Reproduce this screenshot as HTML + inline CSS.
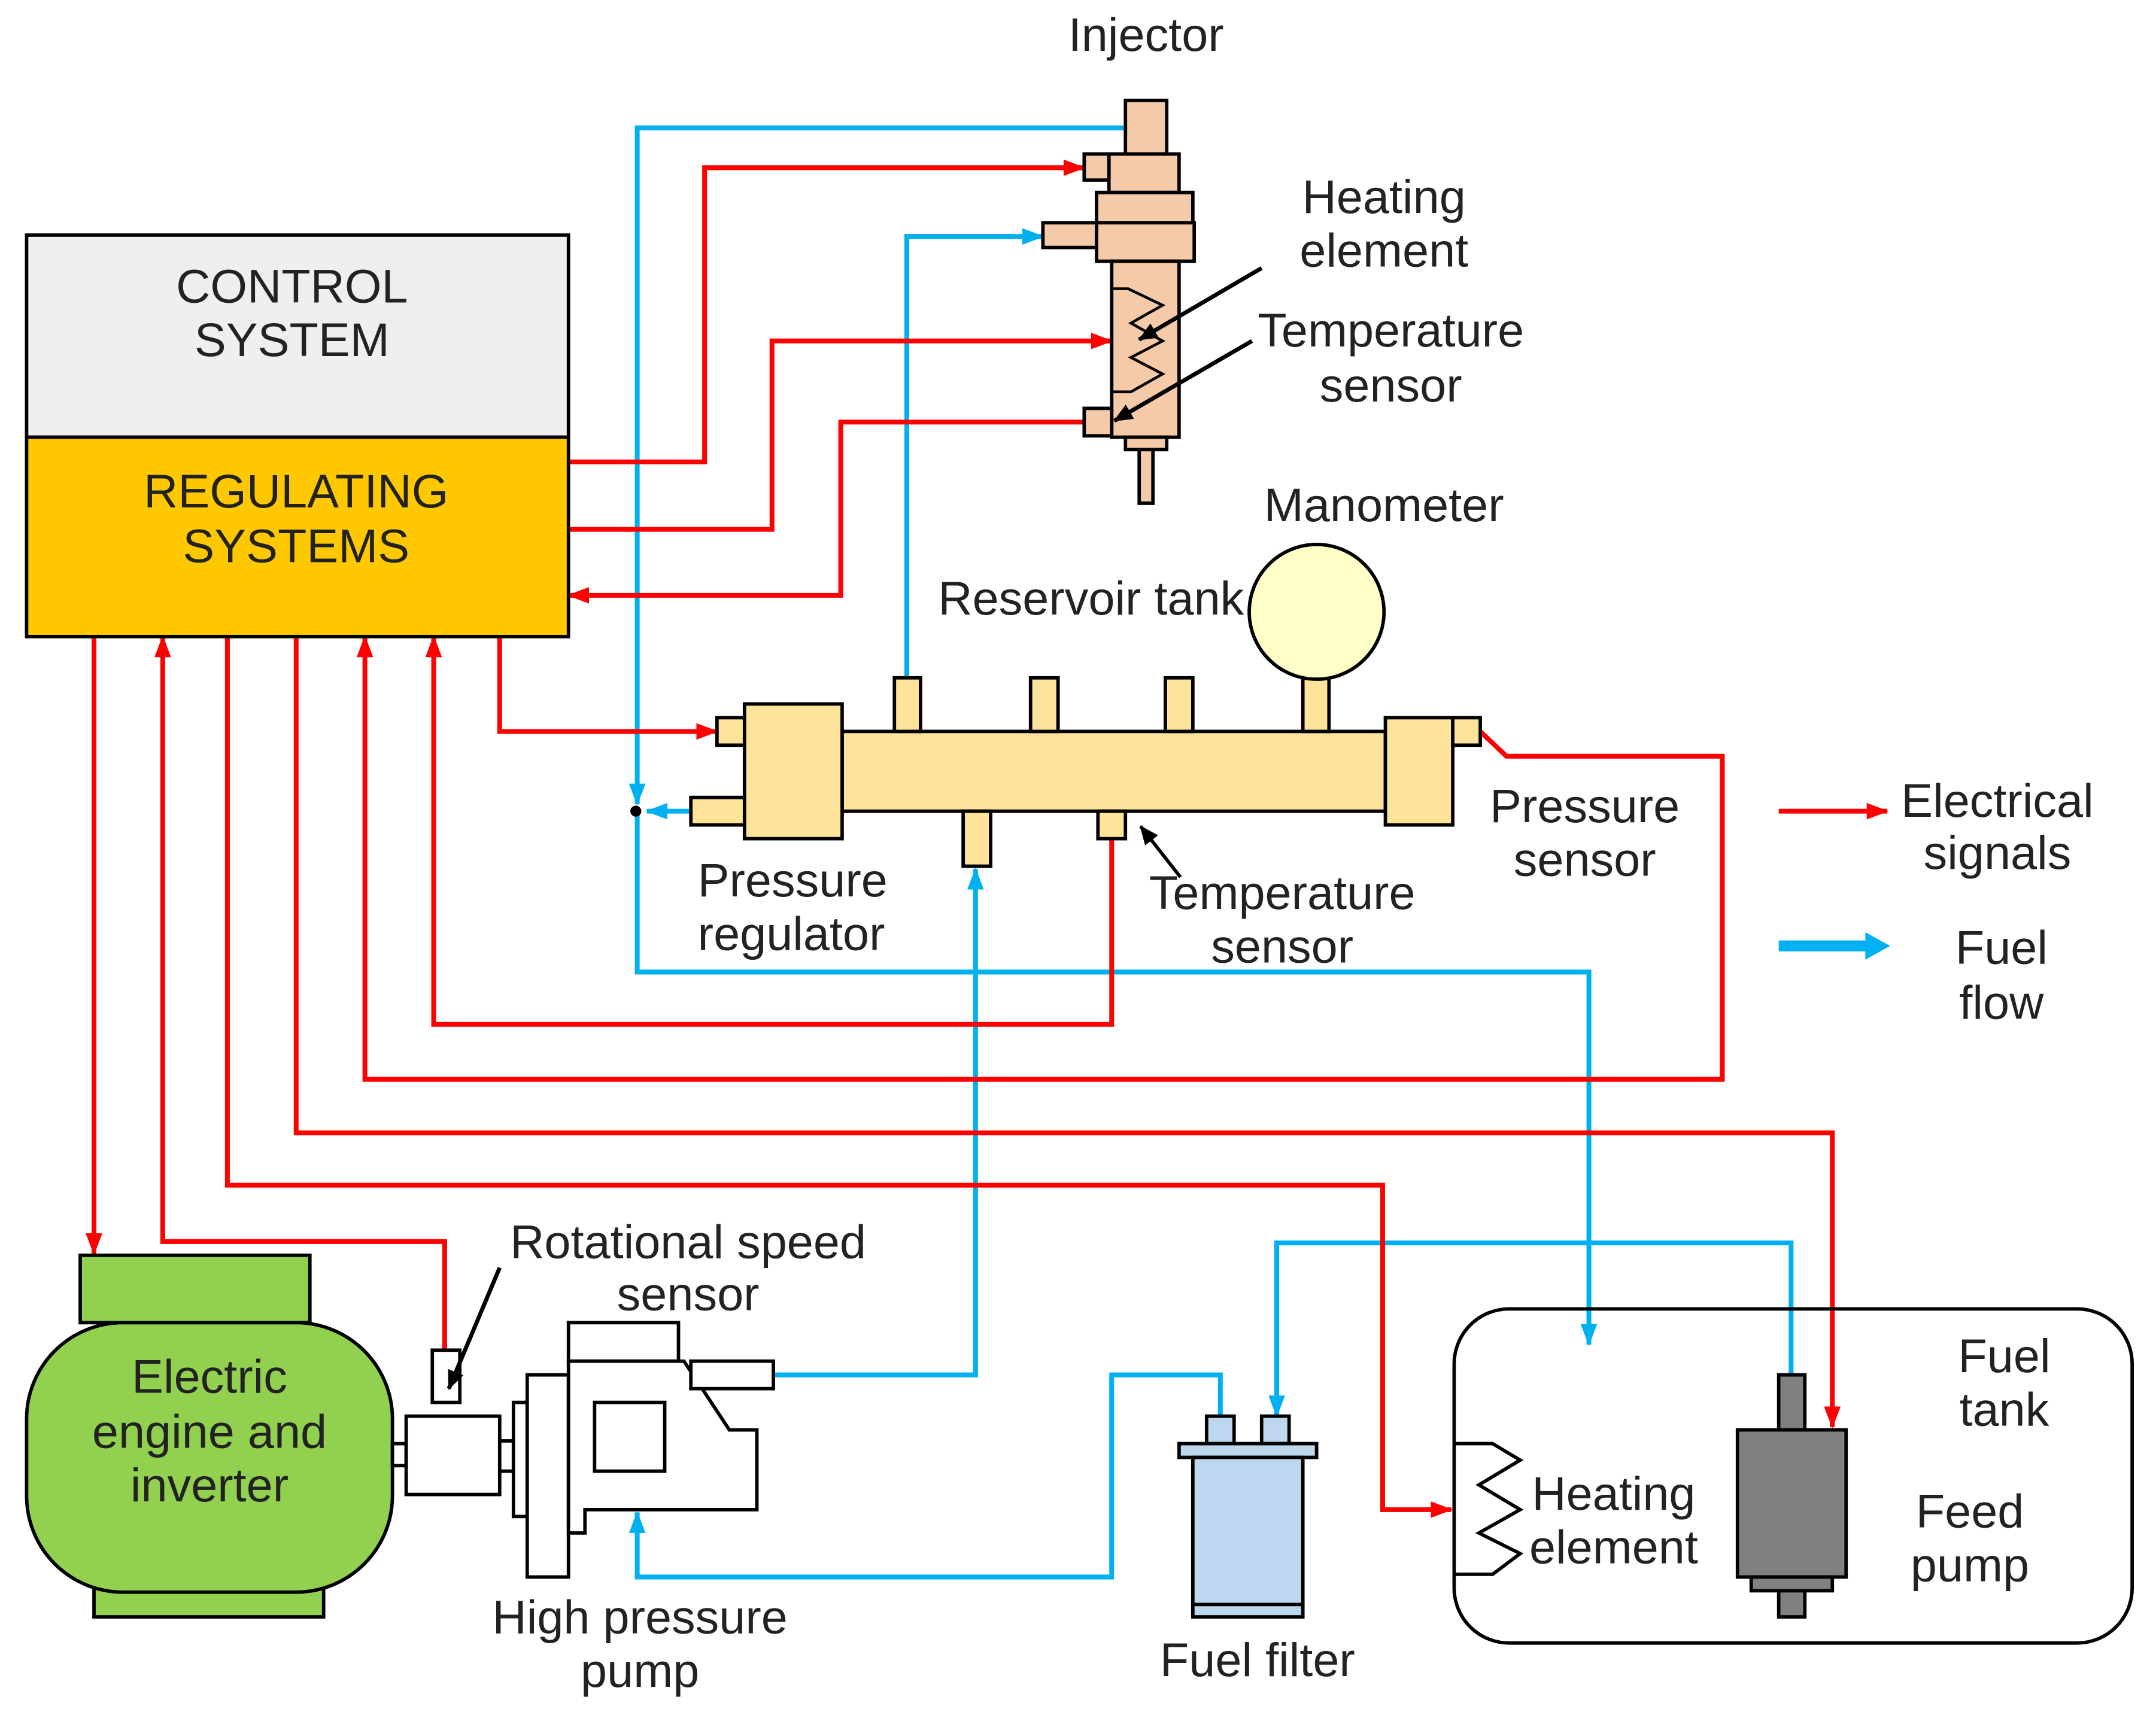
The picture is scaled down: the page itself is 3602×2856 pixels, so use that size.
<!DOCTYPE html>
<html><head><meta charset="utf-8"><style>
html,body{margin:0;padding:0;background:#fff}
svg{display:block}
text{font-family:"Liberation Sans",Arial,sans-serif;font-size:34.5px;fill:#222;text-anchor:middle}
</style></head><body>
<svg width="3602" height="2856" viewBox="0 0 1567 1243" xmlns="http://www.w3.org/2000/svg">
<defs>
<marker id="ar" markerUnits="userSpaceOnUse" markerWidth="16" markerHeight="12" refX="15" refY="6" orient="auto"><polygon points="0,0 16,6 0,12" fill="#ff0000"/></marker>
<marker id="ab" markerUnits="userSpaceOnUse" markerWidth="16" markerHeight="12" refX="15" refY="6" orient="auto"><polygon points="0,0 16,6 0,12" fill="#00b0f0"/></marker>
<marker id="ak" markerUnits="userSpaceOnUse" markerWidth="14" markerHeight="12" refX="13" refY="6" orient="auto"><polygon points="0,0 14,6 0,12" fill="#000"/></marker>
</defs>
<g fill="none" stroke-width="3.5" stroke-linejoin="miter">
<g stroke="#00b0f0">
<polyline points="818,93 463,93 463,585" marker-end="url(#ab)"/>
<polyline points="463,590 463,707 1155,707 1155,978" marker-end="url(#ab)"/>
<polyline points="502,590 470,590" marker-end="url(#ab)"/>
<polyline points="659,493 659,172 758,172" marker-end="url(#ab)"/>
<polyline points="562,1000 709,1000 709,632" marker-end="url(#ab)"/>
<polyline points="887,1030 887,1000 808,1000 808,1147 463,1147 463,1100" marker-end="url(#ab)"/>
<polyline points="1302,1000 1302,904 928,904 928,1030" marker-end="url(#ab)"/>
</g>
<g stroke="#ff0000">
<polyline points="413,336 512,336 512,122 788,122" marker-end="url(#ar)"/>
<polyline points="413,385 561,385 561,248 808,248" marker-end="url(#ar)"/>
<polyline points="788,307 611,307 611,433 413,433" marker-end="url(#ar)"/>
<polyline points="363,463 363,532 521,532" marker-end="url(#ar)"/>
<polyline points="68,463 68,912" marker-end="url(#ar)"/>
<polyline points="323,982 323,903 118,903 118,463" marker-end="url(#ar)"/>
<polyline points="165,463 165,862 1005,862 1005,1098 1055,1098" marker-end="url(#ar)"/>
<polyline points="215,463 215,824 1332,824 1332,1038" marker-end="url(#ar)"/>
<polyline points="1076,532 1095,550 1252,550 1252,785 265,785 265,463" marker-end="url(#ar)"/>
<polyline points="808,610 808,745 315,745 315,463" marker-end="url(#ar)"/>
</g>
</g>
<circle cx="462" cy="590" r="4" fill="#000"/>

<rect x="19" y="171" width="394" height="147" fill="#efefef" stroke="#000" stroke-width="2.5"/>
<rect x="19" y="318" width="394" height="145" fill="#ffc800" stroke="#000" stroke-width="2.5"/>
<text x="212" y="220">CONTROL</text><text x="212" y="259">SYSTEM</text>
<text x="215" y="369">REGULATING</text><text x="215" y="409">SYSTEMS</text>

<g fill="#f5caa8" stroke="#000" stroke-width="2.5">
<rect x="818" y="73" width="30" height="39"/>
<rect x="806" y="112" width="51" height="28"/>
<rect x="788" y="112" width="18" height="19"/>
<rect x="797" y="140" width="70" height="22"/>
<rect x="797" y="162" width="71" height="28"/>
<rect x="758" y="162" width="39" height="18"/>
<rect x="808" y="190" width="49" height="128"/>
<rect x="788" y="297" width="20" height="20"/>
<rect x="818" y="318" width="30" height="9"/>
<rect x="828" y="327" width="10" height="39"/>
</g>
<polyline points="808,210 820,210 845,222 822,235 845,248 822,260 845,272 822,285 808,285" fill="none" stroke="#000" stroke-width="2"/>
<line x1="917" y1="195" x2="828" y2="247" stroke="#000" stroke-width="3" marker-end="url(#ak)"/>
<line x1="910" y1="248" x2="810" y2="306" stroke="#000" stroke-width="3" marker-end="url(#ak)"/>

<g fill="#fde49a" stroke="#000" stroke-width="2.5">
<rect x="612" y="532" width="395" height="58"/>
<rect x="541" y="512" width="71" height="98"/>
<rect x="521" y="522" width="20" height="20"/>
<rect x="502" y="580" width="39" height="20"/>
<rect x="1007" y="522" width="49" height="78"/>
<rect x="1056" y="522" width="20" height="20"/>
<rect x="650" y="493" width="19" height="39"/>
<rect x="749" y="493" width="20" height="39"/>
<rect x="847" y="493" width="20" height="39"/>
<rect x="947" y="493" width="19" height="39"/>
<rect x="700" y="590" width="20" height="40"/>
<rect x="798" y="590" width="20" height="20"/>
</g>
<circle cx="957" cy="445" r="49" fill="#ffffc8" stroke="#000" stroke-width="2.5"/>
<line x1="858" y1="638" x2="829" y2="601" stroke="#000" stroke-width="2.5" marker-end="url(#ak)"/>

<g fill="#92d050" stroke="#000" stroke-width="2.5">
<rect x="58" y="913" width="167" height="49"/>
<rect x="68" y="1155" width="167" height="21"/>
<rect x="19" y="962" width="266" height="196" rx="70"/>
</g>
<text x="152" y="1013">Electric</text><text x="152" y="1053">engine and</text><text x="152" y="1092">inverter</text>
<g fill="#fff" stroke="#000" stroke-width="2.5">
<rect x="285" y="1050" width="10" height="16"/>
<rect x="295" y="1030" width="68" height="57"/>
<rect x="363" y="1048" width="10" height="22"/>
<rect x="373" y="1020" width="10" height="83"/>
<rect x="383" y="1000" width="30" height="147"/>
<rect x="413" y="962" width="80" height="28"/>
<path d="M413,990 L497,990 L530,1040 L550,1040 L550,1098 L425,1098 L425,1115 L413,1115 Z"/>
<rect x="502" y="990" width="60" height="20"/>
<rect x="432" y="1020" width="51" height="50"/>
<rect x="314" y="982" width="20" height="38"/>
</g>
<line x1="363" y1="922" x2="326" y2="1010" stroke="#000" stroke-width="3" marker-end="url(#ak)"/>

<g fill="#bdd7ee" stroke="#000" stroke-width="2.5">
<rect x="877" y="1030" width="20" height="20"/>
<rect x="917" y="1030" width="20" height="20"/>
<rect x="857" y="1050" width="100" height="10"/>
<rect x="867" y="1060" width="80" height="107"/>
<rect x="867" y="1167" width="80" height="9"/>
</g>

<rect x="1057" y="952" width="493" height="243" rx="40" fill="none" stroke="#000" stroke-width="2.5"/>
<polyline points="1057,1050 1085,1050 1105,1062 1075,1080 1105,1098 1075,1115 1105,1130 1085,1145 1057,1145" fill="none" stroke="#000" stroke-width="2.5"/>
<g fill="#808080" stroke="#000" stroke-width="2.5">
<rect x="1293" y="1000" width="19" height="40"/>
<rect x="1263" y="1040" width="79" height="107"/>
<rect x="1273" y="1147" width="59" height="10"/>
<rect x="1293" y="1157" width="19" height="19"/>
</g>

<line x1="1293" y1="590" x2="1372" y2="590" stroke="#ff0000" stroke-width="3.5" marker-end="url(#ar)"/>
<line x1="1293" y1="688" x2="1358" y2="688" stroke="#00b0f0" stroke-width="8"/>
<polygon points="1356,678 1374,688 1356,698" fill="#00b0f0"/>

<text x="833" y="37">Injector</text>
<text x="1006" y="155">Heating</text><text x="1006" y="194">element</text>
<text x="1011" y="252">Temperature</text><text x="1011" y="292">sensor</text>
<text x="1006" y="379">Manometer</text>
<text x="793" y="447">Reservoir tank</text>
<text x="507" y="652" style="text-anchor:start">Pressure</text><text x="507" y="691" style="text-anchor:start">regulator</text>
<text x="932" y="661">Temperature</text><text x="932" y="700">sensor</text>
<text x="1152" y="598">Pressure</text><text x="1152" y="637">sensor</text>
<text x="1452" y="594">Electrical</text><text x="1452" y="632">signals</text>
<text x="1455" y="701">Fuel</text><text x="1455" y="741">flow</text>
<text x="500" y="915">Rotational speed</text><text x="500" y="953">sensor</text>
<text x="465" y="1188">High pressure</text><text x="465" y="1227">pump</text>
<text x="914" y="1219">Fuel filter</text>
<text x="1457" y="998">Fuel</text><text x="1457" y="1037">tank</text>
<text x="1173" y="1098">Heating</text><text x="1173" y="1137">element</text>
<text x="1432" y="1111">Feed</text><text x="1432" y="1150">pump</text>
</svg>
</body></html>
